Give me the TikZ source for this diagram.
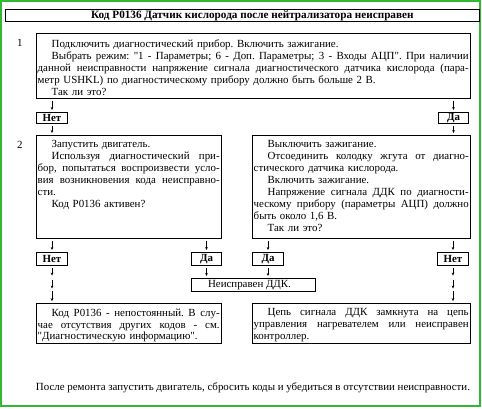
\documentclass[tikz,border=0pt]{standalone}
\usepackage{fontspec}
\setmainfont{Liberation Serif}[Ligatures=TeXOff]
\usetikzlibrary{arrows.meta,calc}
\definecolor{frame}{RGB}{50,185,50}
\newcommand\JL[2]{\leavevmode\hbox to #1{\spaceskip=0.25em plus 1fil minus 0.12em\xspaceskip=\spaceskip #2}}
\newcommand\JI[2]{\leavevmode\hspace*{14pt}\JL{\dimexpr#1-14pt\relax}{#2}}
\newcommand\PI{\leavevmode\hspace*{14pt}}
\newcommand\qd{\char"22\relax}
\frenchspacing
\begin{document}
\begin{tikzpicture}[x=1pt,y=-1pt,
  box/.style={draw,line width=0.7pt,inner sep=0pt,anchor=north west},
  btn/.style={draw,line width=1pt,inner sep=0pt,anchor=north west,font=\bfseries\fontsize{10.9}{12}\selectfont},
  txt/.style={inner sep=0pt,anchor=north west,align=left,font=\frenchspacing\fontsize{10.9}{11.9}\selectfont},
  arr/.style={-{Stealth[length=3pt,width=2.6pt]},line width=0.5pt,shorten <=2pt,shorten >=2pt},
  arr0/.style={-{Stealth[length=3pt,width=2.6pt]},line width=0.5pt}]
\useasboundingbox (0,0) rectangle (482,409);
\draw[frame,line width=2pt] (1,1) rectangle (480,405.5);
% title
\node[box,minimum width=474pt,minimum height=12pt,font=\bfseries\fontsize{11.2}{12}\selectfont] (title) at (5,9)
  {\hspace*{20pt}Код P0136 Датчик кислорода после нейтрализатора неисправен};
% step numbers
\node[txt] (num1) at (17,39) {1};
\node[txt] (num2) at (17,141) {2};
% box 1
\node[box,minimum width=434pt,minimum height=65pt] (b1) at (36,33) {};
\node[txt,text width=431pt] (t1) at ([xshift=1.5pt,yshift=-6.5pt]b1.north west) {%
\PI Подключить диагностический прибор. Включить зажигание.\\
\JI{431pt}{Выбрать режим: \qd1 - Параметры; 6 - Доп. Параметры; 3 - Входы АЦП\qd. При наличии}\\
\JL{431pt}{данной неисправности напряжение сигнала диагностического датчика кислорода (пара-}\\
метр USHKL) по диагностическому прибору должно быть больше 2 В.\\
\PI Так ли это?};
% buttons row 1
\node[btn,minimum width=31pt,minimum height=11pt] (n1) at (36,112) {Нет};
\node[btn,minimum width=30pt,minimum height=11pt] (y1) at (438,112) {Да};
% box 2 left
\node[box,minimum width=185pt,minimum height=103pt] (b2l) at (36,135) {};
\node[txt,text width=182pt] (t2l) at ([xshift=1.5pt,yshift=-5.5pt]b2l.north west) {%
\PI Запустить двигатель.\\
\JI{182pt}{Используя диагностический при-}\\
\JL{182pt}{бор, попытаться воспроизвести усло-}\\
\JL{182pt}{вия возникновения кода неисправно-}\\
сти.\\
\PI Код P0136 активен?};
% box 2 right
\node[box,minimum width=218pt,minimum height=103pt] (b2r) at (252,135) {};
\node[txt,text width=215pt] (t2r) at ([xshift=1.5pt,yshift=-5.5pt]b2r.north west) {%
\PI Выключить зажигание.\\
\JI{215pt}{Отсоединить колодку жгута от диагно-}\\
стического датчика кислорода.\\
\PI Включить зажигание.\\
\JI{215pt}{Напряжение сигнала ДДК по диагности-}\\
\JL{215pt}{ческому прибору (параметры АЦП) должно}\\
быть около 1,6 В.\\
\PI Так ли это?};
% buttons row 2
\node[btn,minimum width=31pt,minimum height=13pt] (n2) at (36,252) {Нет};
\node[btn,minimum width=30pt,minimum height=13pt] (y2) at (191,252) {Да};
\node[btn,minimum width=31pt,minimum height=13pt] (y3) at (252,252) {Да};
\node[btn,minimum width=31pt,minimum height=13pt] (n3) at (437,252) {Нет};
% result DDK
\node[btn,minimum width=124pt,minimum height=13pt,font=\frenchspacing\fontsize{10.9}{12}\selectfont] (d) at (191,278) {\hspace*{-8pt}Неисправен ДДК.};
% bottom boxes
\node[box,minimum width=185pt,minimum height=40pt] (b3l) at (36,303) {};
\node[txt,text width=182pt] (t3l) at ([xshift=1.5pt,yshift=-5.5pt]b3l.north west) {%
\JI{182pt}{Код P0136 - непостоянный. В слу-}\\
\JL{182pt}{чае отсутствия других кодов - см.}\\
\qd Диагностическую информацию\qd.};
\node[box,minimum width=218pt,minimum height=40pt] (b3r) at (252,303) {};
\node[txt,text width=215pt] (t3r) at ([xshift=1.5pt,yshift=-5.5pt]b3r.north west) {%
\JI{215pt}{Цепь сигнала ДДК замкнута на цепь}\\
\JL{215pt}{управления нагревателем или неисправен}\\
контроллер.};
% final note
\node[inner sep=0pt,font=\frenchspacing\fontsize{10.9}{12}\selectfont] (note) at (253,388)
  {После ремонта запустить двигатель, сбросить коды и убедиться в отсутствии неисправности.};
% connectors
\draw[arr] (b1.south -| n1.north) -- (n1.north);
\draw[arr] (b1.south -| y1.north) -- (y1.north);
\draw[arr] (n1.south) -- (b2l.north -| n1.south);
\draw[arr] (y1.south) -- (b2r.north -| y1.south);
\draw[arr] (b2l.south -| n2.north) -- (n2.north);
\draw[arr] (b2l.south -| y2.north) -- (y2.north);
\draw[arr] (b2r.south -| y3.north) -- (y3.north);
\draw[arr] (b2r.south -| n3.north) -- (n3.north);
\draw[arr] (y2.south) -- (d.north -| y2.south);
\draw[arr] (y3.south) -- (d.north -| y3.south);
\path (n2.south) -- (b3l.north -| n2.south)
  coordinate[pos=0.05] (p1) coordinate[pos=0.26] (p2)
  coordinate[pos=0.39] (p3) coordinate[pos=0.61] (p4)
  coordinate[pos=0.68] (p5) coordinate[pos=0.95] (p6);
\draw[arr0] (p1) -- (p2);
\draw[arr0] (p3) -- (p4);
\draw[arr0] (p5) -- (p6);
\path (n3.south) -- (b3r.north -| n3.south)
  coordinate[pos=0.05] (q1) coordinate[pos=0.26] (q2)
  coordinate[pos=0.39] (q3) coordinate[pos=0.61] (q4)
  coordinate[pos=0.68] (q5) coordinate[pos=0.95] (q6);
\draw[arr0] (q1) -- (q2);
\draw[arr0] (q3) -- (q4);
\draw[arr0] (q5) -- (q6);
\end{tikzpicture}
\end{document}
